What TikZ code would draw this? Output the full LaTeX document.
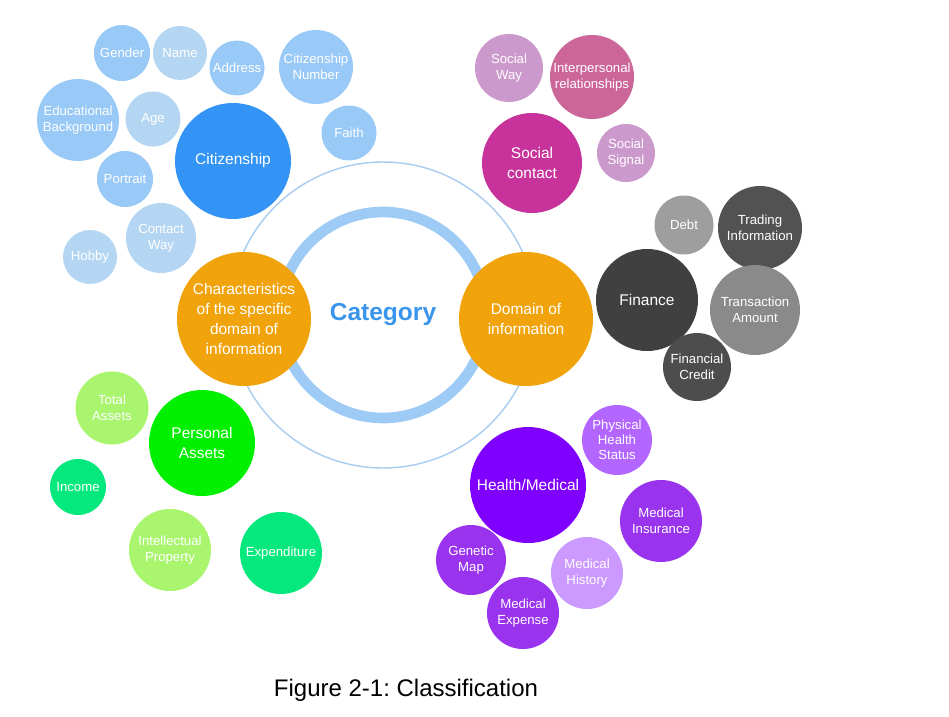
\documentclass[tikz,border=0pt]{standalone}
\usepackage{fontspec}
\setmainfont{Liberation Sans}
\frenchspacing
\definecolor{cLB}{RGB}{153,201,247}
\definecolor{cLL}{RGB}{180,214,242}
\definecolor{cCit}{RGB}{52,148,245}
\definecolor{cOr}{RGB}{240,163,10}
\definecolor{cRing}{RGB}{158,203,245}
\definecolor{cThin}{RGB}{170,206,240}
\definecolor{cCat}{RGB}{58,149,236}
\definecolor{cMag}{RGB}{200,51,155}
\definecolor{cMauve}{RGB}{204,153,204}
\definecolor{cRose}{RGB}{204,102,153}
\definecolor{cFin}{RGB}{64,64,64}
\definecolor{cDebt}{RGB}{158,158,158}
\definecolor{cTrad}{RGB}{82,82,82}
\definecolor{cTrans}{RGB}{138,138,138}
\definecolor{cCred}{RGB}{77,77,77}
\definecolor{cPers}{RGB}{0,240,0}
\definecolor{cLime}{RGB}{169,245,110}
\definecolor{cMint}{RGB}{5,232,125}
\definecolor{cHealth}{RGB}{127,0,255}
\definecolor{cPhys}{RGB}{178,102,255}
\definecolor{cPurp}{RGB}{153,51,238}
\definecolor{cLilac}{RGB}{204,153,255}
\tikzset{
  bub/.style={circle, inner sep=0pt, align=center, text=white, fill=#1},
  rad/.style={minimum size=1.5pt*#1},
  big/.style={font=\fontsize{11.6}{15}\selectfont},
  sml/.style={font=\fontsize{9.9}{12}\selectfont},
  ring/.style={circle, inner sep=0pt, draw=#1, fill=none},
}
\begin{document}
\begin{tikzpicture}[x=0.75pt, y=-0.75pt]
\useasboundingbox[fill=white] (0,0) rectangle (949,717);
% rings
\node[ring=cThin, line width=1.1pt, rad=153] (outerring) at (383,315) {};
\node[ring=cRing, line width=8pt, rad=103] (innerring) at (383,315) {};
\node[text=cCat, font=\fontsize{18.4}{22}\selectfont\bfseries] (category) at (383,315) {Category};
% citizenship group
\node[bub=cLB, rad=28, sml] (gender) at (122,53) {Gender};
\node[bub=cLL, rad=27, sml] (name) at (180,53) {Name};
\node[bub=cLB, rad=27.5, sml] (address) at (237,68) {Address};
\node[bub=cLB, rad=37, sml] (citnum) at (316,67) {Citizenship\\Number};
\node[bub=cLB, rad=41, sml] (edu) at (78,120) {Educational\\Background};
\node[bub=cLL, rad=27.5, sml] (age) at (153,119) {Age};
\node[bub=cLB, rad=27.5, sml] (faith) at (349,133) {Faith};
\node[bub=cCit, rad=58, big] (citizenship) at (233,161) {Citizenship};
\node[bub=cLB, rad=28, sml] (portrait) at (125,179) {Portrait};
\node[bub=cLL, rad=35, sml] (contact) at (161,238) {Contact\\Way};
\node[bub=cLL, rad=27, sml] (hobby) at (90,257) {Hobby};
% social group
\node[bub=cMauve, rad=34, sml] (socway) at (509,68) {Social\\Way};
\node[bub=cRose, rad=42, sml] (interp) at (592,77) {Interpersonal\\relationships};
\node[bub=cMag, rad=50, big] (social) at (532,163) {Social\\contact};
\node[bub=cMauve, rad=29, sml] (socsig) at (626,153) {Social\\Signal};
% finance group
\node[bub=cDebt, rad=29.5, sml] (debt) at (684,225) {Debt};
\node[bub=cTrad, rad=42, sml] (trading) at (760,228) {Trading\\Information};
\node[bub=cFin, rad=51, big] (finance) at (647,300) {Finance};
\node[bub=cTrans, rad=45, sml] (trans) at (755,310) {Transaction\\Amount};
\node[bub=cCred, rad=34, sml] (fincred) at (697,367) {Financial\\Credit};
% main categories
\node[bub=cOr, rad=67, big] (charac) at (244,319) {Characteristics\\of the specific\\domain of\\information};
\node[bub=cOr, rad=67, big] (domain) at (526,319) {Domain of\\information};
% assets group
\node[bub=cLime, rad=36.5, sml] (total) at (112,408) {Total\\Assets};
\node[bub=cPers, rad=53, big] (personal) at (202,443) {Personal\\Assets};
\node[bub=cMint, rad=28, sml] (income) at (78,487) {Income};
\node[bub=cLime, rad=41, sml] (intel) at (170,550) {Intellectual\\Property};
\node[bub=cMint, rad=41, sml] (expend) at (281,553) {Expenditure};
% health group
\node[bub=cHealth, rad=58, big] (health) at (528,485) {Health/Medical};
\node[bub=cPhys, rad=35, sml, font=\fontsize{9.9}{11.3}\selectfont] (phys) at (617,440) {Physical\\Health\\Status};
\node[bub=cPurp, rad=41, sml] (medins) at (661,521) {Medical\\Insurance};
\node[bub=cPurp, rad=35, sml] (genetic) at (471,560) {Genetic\\Map};
\node[bub=cLilac, rad=36, sml] (medhist) at (587,573) {Medical\\History};
\node[bub=cPurp, rad=36, sml] (medexp) at (523,613) {Medical\\Expense};
% caption
\node[font=\fontsize{18}{22}\selectfont, text=black] (caption) at (406,690) {Figure 2-1: Classification};
\end{tikzpicture}
\end{document}
